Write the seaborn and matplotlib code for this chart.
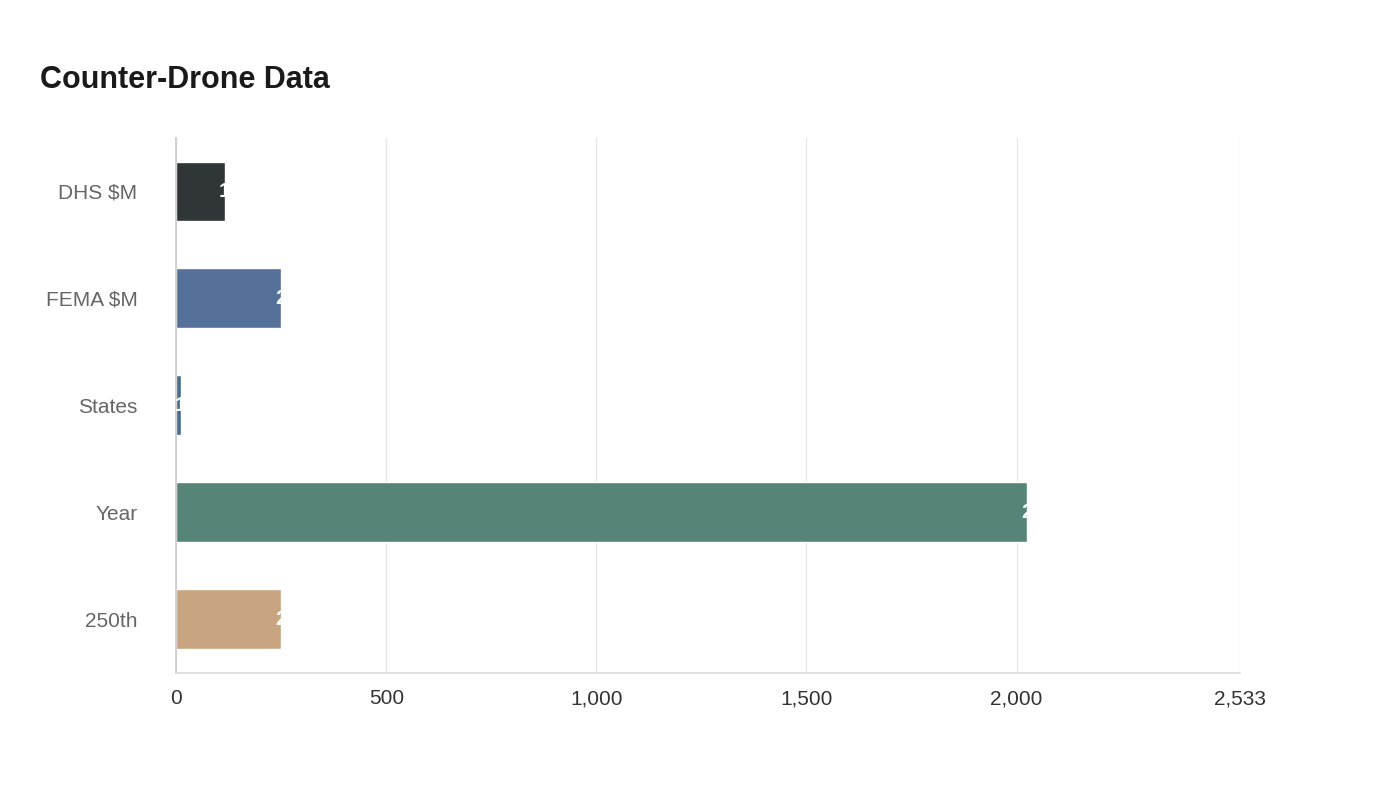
import matplotlib
matplotlib.use("Agg")
import matplotlib.pyplot as plt
import seaborn as sns
import pandas as pd

categories = ["DHS $M", "FEMA $M", "States", "Year", "250th"]
values = [115, 250, 10, 2026, 250]
labels = ["115", "250", "10", "2026", "250"]
colors = ["#2f3538", "#4a6fa5", "#3a6f96", "#4e8c7b", "#d4a574"]
ticks = [0, 500, 1000, 1500, 2000, 2533]
tick_labels = ["0", "500", "1,000", "1,500", "2,000", "2,533"]

sns.set_theme(style="white")
plt.rcParams['font.family'] = ['Liberation Sans', 'DejaVu Sans']

fig = plt.figure(figsize=(14, 8), dpi=100)
ax = fig.add_axes([0.126, 0.159, 0.76, 0.6685])
df = pd.DataFrame({"cat": categories, "val": values})
sns.barplot(data=df, x="val", y="cat", hue="cat", palette=colors, legend=False,
            width=0.56, ax=ax, orient="h")
ax.set_xlim(0, 2533)
ax.set_xticks(ticks)
ax.set_xticklabels(tick_labels, fontsize=15, color="#333333")
ax.tick_params(axis="y", labelsize=15, labelcolor="#666666", length=0, pad=28)
ax.tick_params(axis="x", length=0, pad=12)
ax.set_xlabel("")
ax.set_ylabel("")
ax.grid(axis="x", color="#e6e6e6", linewidth=1)
ax.set_axisbelow(True)
for s in ["top", "right"]:
    ax.spines[s].set_visible(False)
ax.spines["left"].set_color("#cccccc")
ax.spines["bottom"].set_color("#dddddd")

for patch, v, lab in zip(ax.patches, values, labels):
    y = patch.get_y() + patch.get_height() / 2
    t = ax.text(v - 6 * 2533 / 1064, y, lab, color="white", fontsize=15,
                fontweight="bold", ha="left", va="center")
    t.set_clip_path(patch)

fig.text(40 / 1400, 1 - 80 / 800, "Counter-Drone Data", fontsize=22,
         fontweight="bold", color="#1a1a1a", ha="left", va="center")
fig.savefig("out.png", dpi=100, facecolor="white")
